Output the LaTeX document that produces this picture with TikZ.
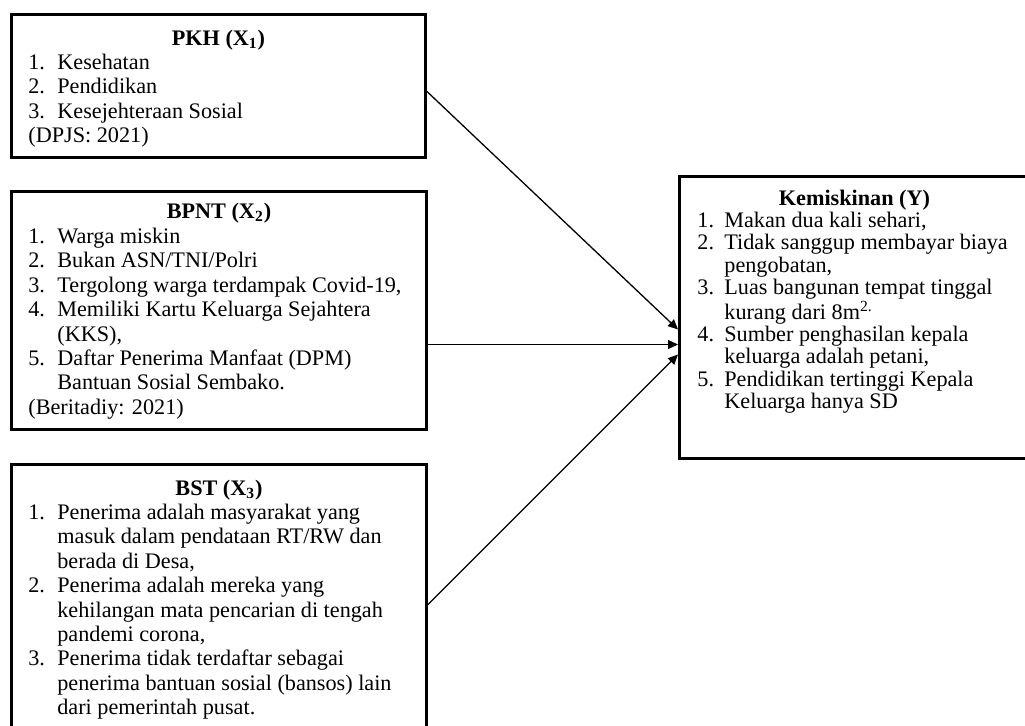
\documentclass[tikz,border=0pt]{standalone}
\usepackage{fontspec}
\setmainfont{Liberation Serif}
\usepackage{tikz}
\usetikzlibrary{arrows.meta}

\newlength{\numw}
\setlength{\numw}{14.5pt}
\newcommand{\nr}[1]{\makebox[\numw][l]{#1}}
\newcommand{\ind}{\hspace*{\numw}}

\tikzset{
  box/.style={draw, line width=1.5pt, inner sep=0pt, anchor=north west},
  head/.style={anchor=base, inner sep=0pt, font=\bfseries\fontsize{11.1}{12.2}\selectfont},
  items/.style={anchor=north west, inner sep=0pt, align=left, font=\fontsize{11.1}{12.2}\selectfont},
  itemsY/.style={items, font={\fontsize{11.1}{11.15}\selectfont\setlength{\numw}{13.5pt}}},
  link/.style={line width=0.65pt, -{Triangle[length=5pt,width=4.5pt]}}
}

\begin{document}
\begin{tikzpicture}[x=0.5pt,y=-0.5pt]

\clip (0,0) rectangle (1025,725) ;

\node[box, minimum width=207pt, minimum height=71.5pt] (pkh) at (10,13) {} ;
\node[head] (pkhHead) at ([yshift=-16pt]pkh.north) {PKH (X\textsubscript{1})} ;
\node[items] (pkhList) at ([xshift=9pt,yshift=-19.46pt]pkh.north west)
  {\strut\nr{1.}Kesehatan\\ \nr{2.}Pendidikan\\ \nr{3.}Kesejehteraan Sosial\\ (DPJS: 2021)} ;

\node[box, minimum width=207.5pt, minimum height=119pt] (bpnt) at (10,190) {} ;
\node[head] (bpntHead) at ([yshift=-14pt]bpnt.north) {BPNT (X\textsubscript{2})} ;
\node[items] (bpntList) at ([xshift=9pt,yshift=-17.96pt]bpnt.north west)
  {\strut\nr{1.}Warga miskin\\ \nr{2.}Bukan ASN/TNI/Polri\\
   \nr{3.}Tergolong warga terdampak Covid-19,\\ \nr{4.}Memiliki Kartu Keluarga Sejahtera\\
   \ind(KKS),\\ \nr{5.}Daftar Penerima Manfaat (DPM)\\ \ind Bantuan Sosial Sembako.\\
   (Beritadiy: 2021)} ;

\node[box, minimum width=207.5pt, minimum height=140pt] (bst) at (10,463) {} ;
\node[head] (bstHead) at ([yshift=-16pt]bst.north) {BST (X\textsubscript{3})} ;
\node[items] (bstList) at ([xshift=9pt,yshift=-19.46pt]bst.north west)
  {\strut\nr{1.}Penerima adalah masyarakat yang\\ \ind masuk dalam pendataan RT/RW dan\\
   \ind berada di Desa,\\ \nr{2.}Penerima adalah mereka yang\\
   \ind kehilangan mata pencarian di tengah\\ \ind pandemi corona,\\
   \nr{3.}Penerima tidak terdaftar sebagai\\ \ind penerima bantuan sosial (bansos) lain\\
   \ind dari pemerintah pusat.} ;

\node[box, minimum width=175pt, minimum height=141pt] (kem) at (678,175) {} ;
\node[head] (kemHead) at ([yshift=-15pt]kem.north) {Kemiskinan (Y)} ;
\node[itemsY] (kemList) at ([xshift=9.5pt,yshift=-18.2pt]kem.north west)
  {\strut\nr{1.}Makan dua kali sehari,\\ \nr{2.}Tidak sanggup membayar biaya\\
   \ind pengobatan,\\ \nr{3.}Luas bangunan tempat tinggal\\
   \ind kurang dari 8m\textsuperscript{2.}\\ \nr{4.}Sumber penghasilan kepala\\
   \ind keluarga adalah petani,\\ \nr{5.}Pendidikan tertinggi Kepala\\
   \ind Keluarga hanya SD} ;

\draw[link] ([yshift=-2.75pt]pkh.east) -- ([yshift=-6pt]kem.west) ;
\draw[link] ([yshift=-17pt]bpnt.east) -- ([yshift=-13.5pt]kem.west) ;
\draw[link] (bst.east) -- ([yshift=-18.5pt]kem.west) ;

\end{tikzpicture}
\end{document}
